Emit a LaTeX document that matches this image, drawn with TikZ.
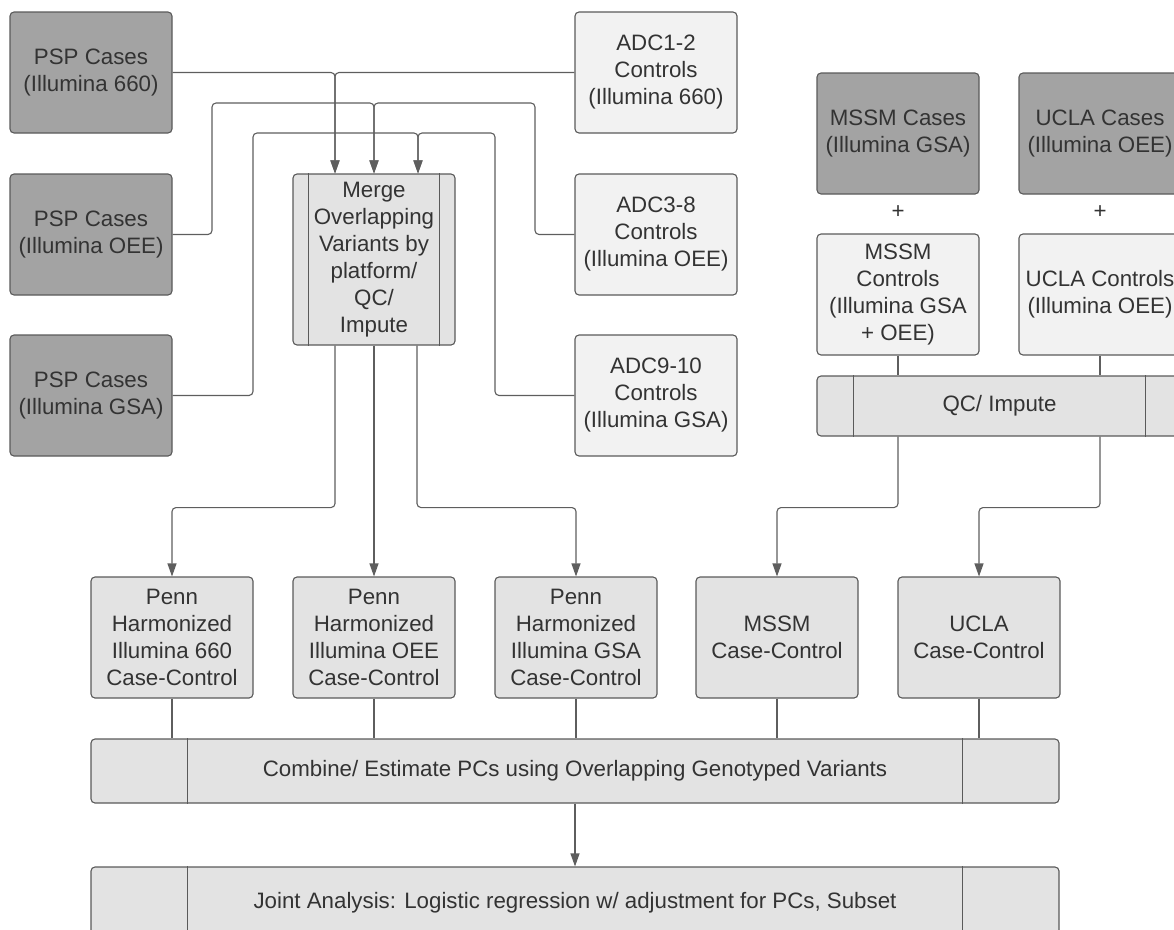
\documentclass[tikz,border=0pt]{standalone}
\usepackage{fontspec}
\setmainfont{Liberation Sans}
\usetikzlibrary{arrows.meta}
\definecolor{txt}{HTML}{333333}
\definecolor{ln}{HTML}{5E5E5E}
\definecolor{bd}{HTML}{5A5A5A}
\definecolor{darkfill}{HTML}{A3A3A3}
\definecolor{lightfill}{HTML}{F2F2F2}
\definecolor{midfill}{HTML}{E3E3E3}
\tikzset{
  box/.style={draw=bd, line width=1.1pt, rounded corners=4pt, align=center, text=txt,
    inner sep=0pt, font=\fontsize{22.3}{27}\selectfont},
  darkbox/.style={box, fill=darkfill, minimum width=162pt, minimum height=121pt},
  lightbox/.style={box, fill=lightfill, minimum width=162pt, minimum height=121pt},
  midbox/.style={box, fill=midfill, minimum width=162pt, minimum height=121pt},
  widebox/.style={box, fill=midfill, minimum width=968pt, minimum height=64pt},
  conn/.style={draw=ln, line width=1.1pt, rounded corners=4pt},
  arr/.style={conn, -{Triangle[length=13pt,width=9pt]}, color=ln},
  inner/.style={draw=bd, line width=1.1pt},
  plus/.style={text=txt, font=\fontsize{22.3}{27}\selectfont}
}
\begin{document}
\begin{tikzpicture}[x=1pt,y=-1pt]
\useasboundingbox (0,0) rectangle (1174,929);
\clip (0,0) rectangle (1174,929);
% left cases
\node[darkbox] (psp1) at (91,72.5) {PSP Cases\\(Illumina 660)};
\node[darkbox] (psp2) at (91,234.5) {PSP Cases\\(Illumina OEE)};
\node[darkbox] (psp3) at (91,395.5) {PSP Cases\\(Illumina GSA)};
% ADC controls
\node[lightbox] (adc1) at (656,72.5) {ADC1-2\\Controls\\(Illumina 660)};
\node[lightbox] (adc2) at (656,234.5) {ADC3-8\\Controls\\(Illumina OEE)};
\node[lightbox] (adc3) at (656,395.5) {ADC9-10\\Controls\\(Illumina GSA)};
% merge
\node[midbox, minimum height=171pt] (merge) at (374,259.5) {Merge\\Overlapping\\Variants by\\platform/\\QC/\\Impute};
\draw[inner] ([xshift=16pt]merge.north west) -- ([xshift=16pt]merge.south west);
\draw[inner] ([xshift=-16pt]merge.north east) -- ([xshift=-16pt]merge.south east);
% right side
\node[darkbox] (mssmca) at (898,133.5) {MSSM Cases\\(Illumina GSA)};
\node[darkbox] (uclaca) at (1100,133.5) {UCLA Cases\\(Illumina OEE)};
\node[plus] (plus1) at (898,212) {+};
\node[plus] (plus2) at (1100,212) {+};
\node[lightbox] (mssmco) at (898,294.5) {MSSM\\Controls\\(Illumina GSA\\+ OEE)};
\node[lightbox] (uclaco) at (1100,294.5) {UCLA Controls\\(Illumina OEE)};
\node[midbox, minimum width=365pt, minimum height=60pt] (qc) at (999.5,406) {QC/ Impute};
\draw[inner] ([xshift=37pt]qc.north west) -- ([xshift=37pt]qc.south west);
\draw[inner] ([xshift=-37pt]qc.north east) -- ([xshift=-37pt]qc.south east);
% case-control boxes
\node[midbox] (penn1) at (172,637.5) {Penn\\Harmonized\\Illumina 660\\Case-Control};
\node[midbox] (penn2) at (374,637.5) {Penn\\Harmonized\\Illumina OEE\\Case-Control};
\node[midbox] (penn3) at (576,637.5) {Penn\\Harmonized\\Illumina GSA\\Case-Control};
\node[midbox] (mssmcc) at (777,637.5) {MSSM\\Case-Control};
\node[midbox] (uclacc) at (979,637.5) {UCLA\\Case-Control};
% combine & joint
\node[widebox] (comb) at (575,771) {Combine/ Estimate PCs using Overlapping Genotyped Variants};
\draw[inner] ([xshift=97pt]comb.north west) -- ([xshift=97pt]comb.south west);
\draw[inner] ([xshift=-97pt]comb.north east) -- ([xshift=-97pt]comb.south east);
\node[widebox, minimum height=72pt] (joint) at (575,903) {\raisebox{6pt}{Joint Analysis: Logistic regression w/ adjustment for PCs, Subset}};
\draw[inner] ([xshift=97pt]joint.north west) -- ([xshift=97pt]joint.south west);
\draw[inner] ([xshift=-97pt]joint.north east) -- ([xshift=-97pt]joint.south east);
% connectors into merge
\draw[arr] (psp1.east) -| ([xshift=-39pt]merge.north);
\draw[arr] (adc1.west) -| ([xshift=-39pt]merge.north);
\draw[arr] (psp2.east) -| (212,103) -| (merge.north);
\draw[arr] (adc2.west) -| (535,103) -| (merge.north);
\draw[arr] (psp3.east) -| (253,133) -| ([xshift=44pt]merge.north);
\draw[arr] (adc3.west) -| (495,133) -| ([xshift=44pt]merge.north);
% merge to penn
\draw[arr] ([xshift=-39pt]merge.south) -- ++(0,162) -| (penn1.north);
\draw[arr] (merge.south) -- (penn2.north);
\draw[arr] ([xshift=43pt]merge.south) -- ++(0,162) -| (penn3.north);
% right side
\draw[conn] (mssmco.south) -- (mssmco.south |- qc.north);
\draw[conn] (uclaco.south) -- (uclaco.south |- qc.north);
\draw[arr] ([xshift=-101.5pt]qc.south) -- ++(0,71) -| (mssmcc.north);
\draw[arr] ([xshift=100.5pt]qc.south) -- ++(0,71) -| (uclacc.north);
% to combine
\draw[conn] (penn1.south) -- (penn1.south |- comb.north);
\draw[conn] (penn2.south) -- (penn2.south |- comb.north);
\draw[conn] (penn3.south) -- (penn3.south |- comb.north);
\draw[conn] (mssmcc.south) -- (mssmcc.south |- comb.north);
\draw[conn] (uclacc.south) -- (uclacc.south |- comb.north);
\draw[arr] (comb.south) -- (joint.north);
\end{tikzpicture}
\end{document}
